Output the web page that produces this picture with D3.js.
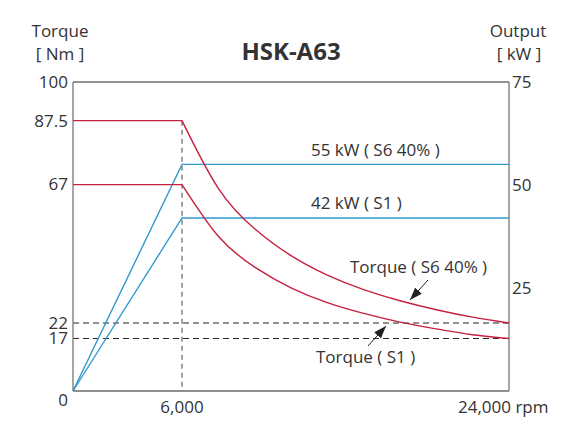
<!DOCTYPE html>
<html><head><meta charset="utf-8">
<script src="https://cdn.jsdelivr.net/npm/d3@7"></script>
<style>body{margin:0;background:#fff}text{font-family:"Open Sans","Noto Sans",sans-serif;fill:#333}</style>
</head><body><svg id="c" width="574" height="427"></svg>
<script>
// Data
const rpm = [0, 6000, 8000, 10000, 12000, 14000, 16000, 18000, 20000, 22000, 24000];
const torqueS6 = [87.5, 87.5, 65.6, 52.5, 43.8, 37.5, 32.8, 29.2, 26.3, 23.9, 22];
const torqueS1 = [66.8, 66.8, 50.1, 40.1, 33.4, 28.6, 25.1, 22.3, 20.1, 18.2, 17];
const powerRpm = [0, 6000, 24000];
const powerS6 = [0, 55, 55];
const powerS1 = [0, 42, 42];
const leftTicks = [100, 87.5, 67, 22, 17, 0];
const rightTicks = [75, 50, 25];
const xTicks = [6000, 24000];
const refTorque = [22, 17];

const svg = d3.select("#c");
const L = 73, R = 509, T = 82, B = 391;
const x = d3.scaleLinear().domain([0, 24000]).range([L, R]);
const yT = d3.scaleLinear().domain([0, 100]).range([B, T]);
const yP = d3.scaleLinear().domain([0, 75]).range([B, T]);
const red = "#c6203f", blue = "#3399cc";
const FS = 17;

// reference dashed lines
refTorque.forEach(v => svg.append("line").attr("x1", L).attr("x2", R)
  .attr("y1", yT(v)).attr("y2", yT(v)).attr("stroke", "#222").attr("stroke-width", 1)
  .attr("stroke-dasharray", "6,4"));
svg.append("line").attr("x1", x(6000)).attr("x2", x(6000)).attr("y1", yT(87.5)).attr("y2", B)
  .attr("stroke", "#666").attr("stroke-width", 1.2).attr("stroke-dasharray", "5,4");

// frame
svg.append("line").attr("x1", L).attr("x2", R).attr("y1", T).attr("y2", T).attr("stroke", "#222").attr("stroke-width", 1.2);
svg.append("line").attr("x1", L).attr("x2", R).attr("y1", B).attr("y2", B).attr("stroke", "#222").attr("stroke-width", 1.2);
svg.append("line").attr("x1", L).attr("x2", L).attr("y1", T).attr("y2", B).attr("stroke", "#888").attr("stroke-width", 1.5);
svg.append("line").attr("x1", R).attr("x2", R).attr("y1", T).attr("y2", B).attr("stroke", "#888").attr("stroke-width", 1.5);

// power lines
const pl = d3.line().x(d => x(d[0])).y(d => yP(d[1]));
[powerS6, powerS1].forEach(s => svg.append("path").attr("d", pl(powerRpm.map((r, i) => [r, s[i]])))
  .attr("fill", "none").attr("stroke", blue).attr("stroke-width", 1.4));

// torque lines: flat part straight, then curve after base speed
const tFlat = d3.line().x(d => x(d[0])).y(d => yT(d[1]));
const tCurve = d3.line().x(d => x(d[0])).y(d => yT(d[1])).curve(d3.curveNatural);
[torqueS6, torqueS1].forEach(s => {
  const pts = rpm.map((r, i) => [r, s[i]]);
  svg.append("path").attr("d", tFlat(pts.slice(0, 2)))
    .attr("fill", "none").attr("stroke", red).attr("stroke-width", 1.4);
  svg.append("path").attr("d", tCurve(pts.slice(1)))
    .attr("fill", "none").attr("stroke", red).attr("stroke-width", 1.4);
});

// ticks
leftTicks.forEach(v => svg.append("text").attr("x", 68).attr("y", v === 0 ? 400 : yT(v))
  .attr("dy", "0.35em").attr("text-anchor", "end").attr("font-size", FS).text(v));
rightTicks.forEach(v => svg.append("text").attr("x", 512).attr("y", yP(v))
  .attr("dy", "0.35em").attr("text-anchor", "start").attr("font-size", FS).text(v));
svg.append("text").attr("x", x(xTicks[0])).attr("y", 413).attr("text-anchor", "middle").attr("font-size", FS).text(d3.format(",")(xTicks[0]));
svg.append("text").attr("x", 458).attr("y", 413).attr("text-anchor", "start").attr("font-size", FS).text(d3.format(",")(xTicks[1]) + " rpm");

// axis titles
svg.append("text").attr("x", 60).attr("y", 37).attr("text-anchor", "middle").attr("font-size", FS).text("Torque");
svg.append("text").attr("x", 60).attr("y", 60).attr("text-anchor", "middle").attr("font-size", FS).text("[ Nm ]");
svg.append("text").attr("x", 518).attr("y", 37).attr("text-anchor", "middle").attr("font-size", FS).text("Output");
svg.append("text").attr("x", 519).attr("y", 60).attr("text-anchor", "middle").attr("font-size", FS).text("[ kW ]");
svg.append("text").attr("x", 291).attr("y", 60).attr("text-anchor", "middle").attr("font-size", 24).attr("font-weight", "bold").text("HSK-A63");

// labels
svg.append("text").attr("x", 311).attr("y", 156).attr("font-size", FS).text("55 kW ( S6 40% )");
svg.append("text").attr("x", 311).attr("y", 209).attr("font-size", FS).text("42 kW ( S1 )");
svg.append("text").attr("x", 350).attr("y", 273).attr("font-size", FS).text("Torque ( S6 40% )");
svg.append("text").attr("x", 316).attr("y", 363).attr("font-size", FS).text("Torque ( S1 )");

// arrows
const defs = svg.append("defs");
defs.append("marker").attr("id", "ah").attr("viewBox", "0 0 14 10").attr("refX", 14).attr("refY", 5)
  .attr("markerWidth", 13).attr("markerHeight", 9).attr("markerUnits", "userSpaceOnUse").attr("orient", "auto")
  .append("path").attr("d", "M0,0 L14,5 L0,10 Z").attr("fill", "#222");
svg.append("line").attr("x1", 428).attr("y1", 280).attr("x2", 410).attr("y2", 300)
  .attr("stroke", "#222").attr("stroke-width", 1).attr("marker-end", "url(#ah)");
svg.append("line").attr("x1", 368).attr("y1", 346).attr("x2", 386).attr("y2", 326)
  .attr("stroke", "#222").attr("stroke-width", 1).attr("marker-end", "url(#ah)");
</script></body></html>
